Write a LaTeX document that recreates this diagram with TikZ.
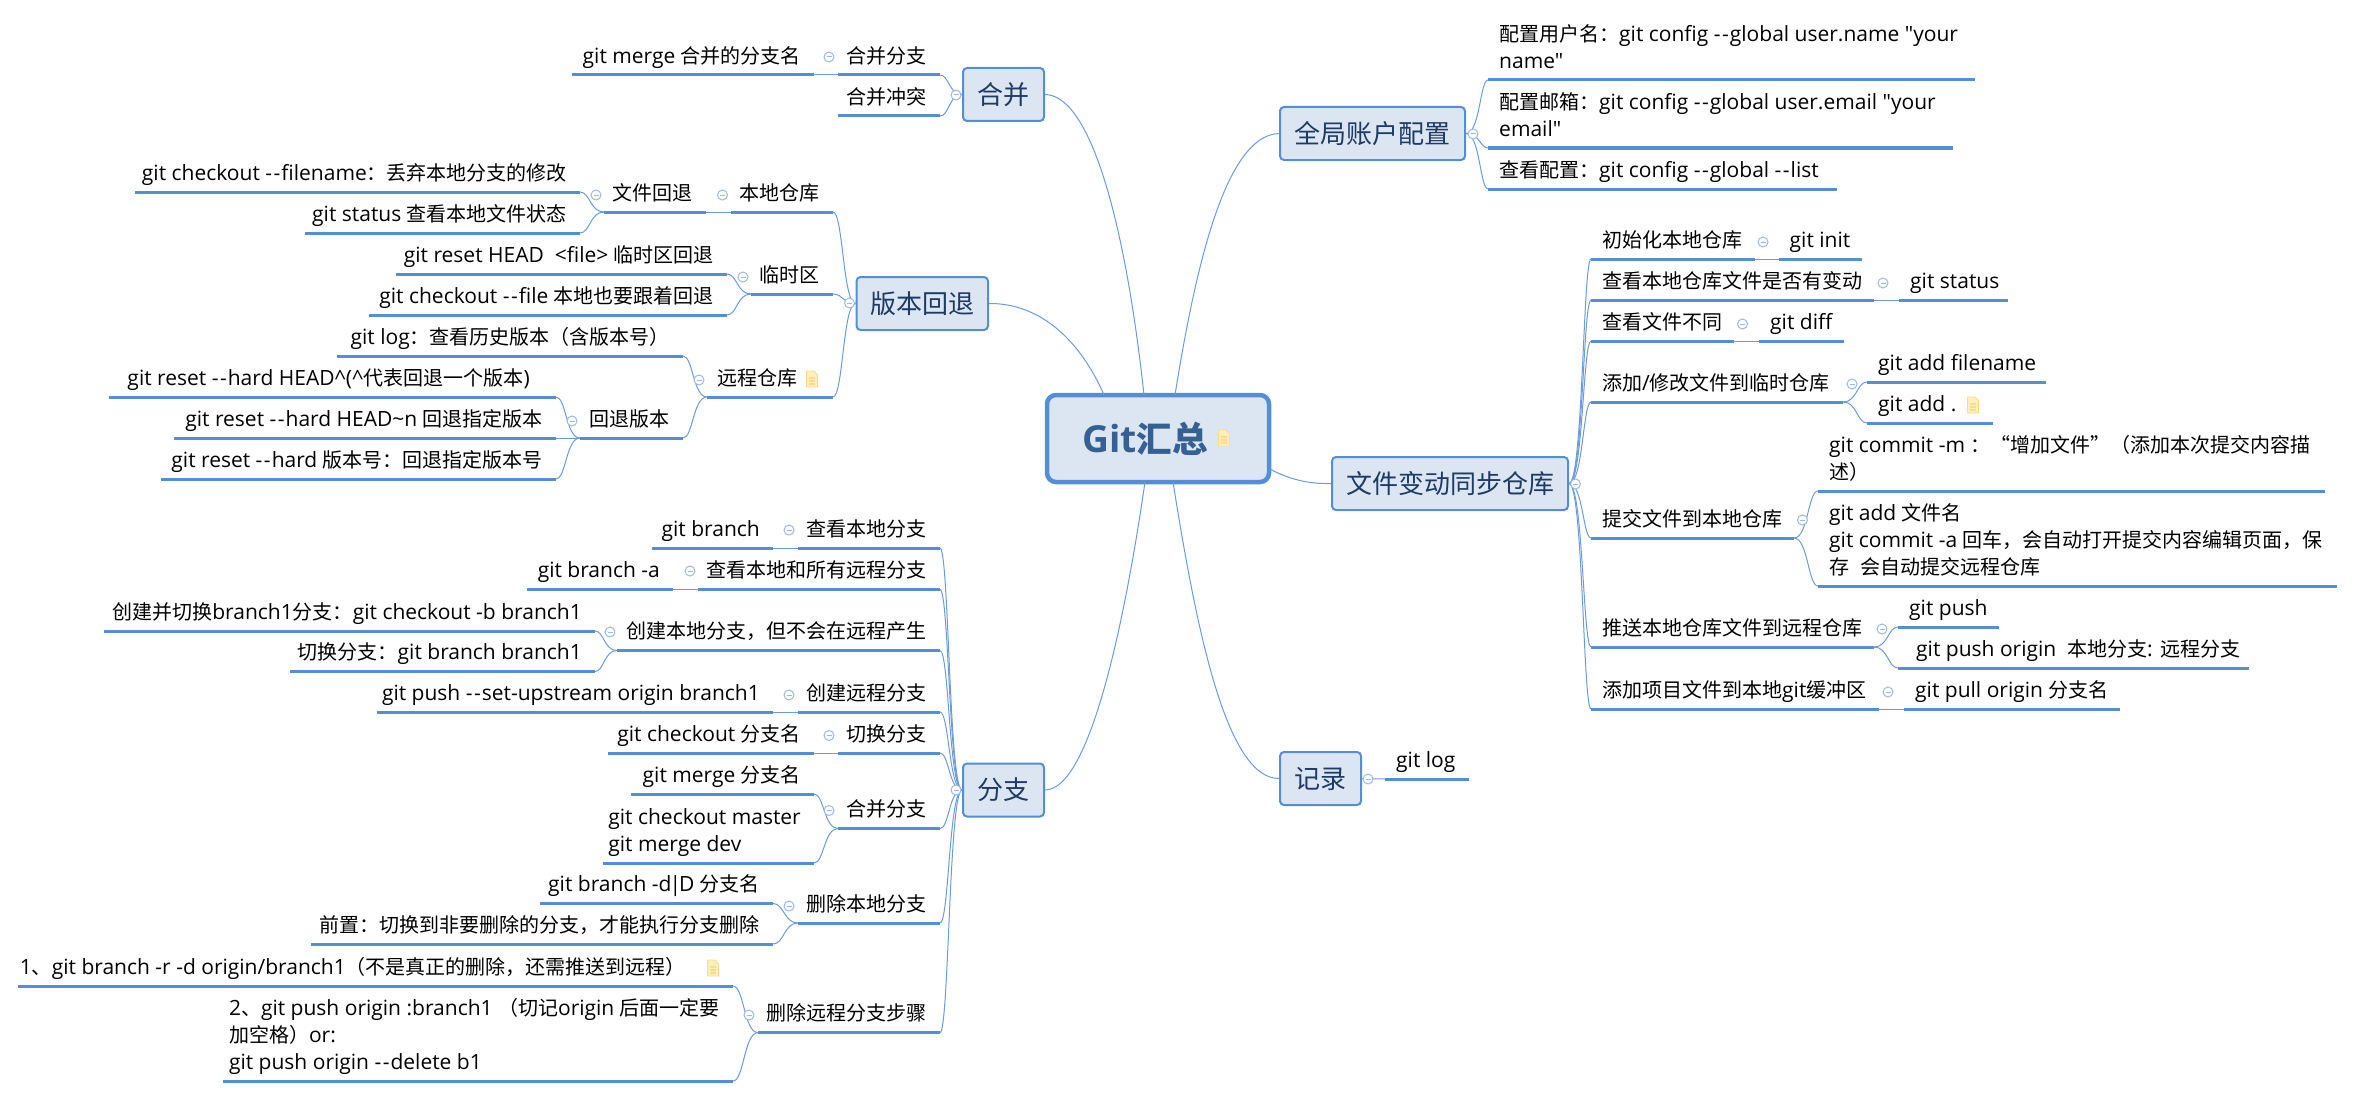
\documentclass[tikz,border=0pt]{standalone}
\usepackage{fontspec}
\setmainfont{Open Sans}
\newfontfamily\lat[Scale=1.05]{Open Sans}
\newfontfamily\cjk{Noto Sans CJK SC}
\newcount\cjkc
\cjkc="2E80 \loop \XeTeXcharclass\cjkc=100 \advance\cjkc by 1 \ifnum\cjkc<"A000 \repeat
\cjkc="FF00 \loop \XeTeXcharclass\cjkc=100 \advance\cjkc by 1 \ifnum\cjkc<"FFF0 \repeat
\XeTeXcharclass"201C=100
\XeTeXcharclass"201D=100
\XeTeXinterchartoks 0 100 = {\cjk}
\XeTeXinterchartoks 100 0 = {\lat}
\XeTeXinterchartoks 4095 100 = {\cjk}
\XeTeXinterchartoks 100 4095 = {\lat}
\XeTeXinterchartokenstate=1
\newcommand\dd{-\kern1.5pt-\kern1pt}
\definecolor{ulc}{HTML}{558ED5}
\definecolor{connc}{HTML}{6C9BDA}
\definecolor{foldcol}{HTML}{9DB8E4}
\definecolor{boxfill}{HTML}{DCE6F2}
\definecolor{boxtxt}{HTML}{1F3A63}
\definecolor{roottxt}{HTML}{366092}
\definecolor{notefill}{HTML}{FFEFB8}
\definecolor{notedraw}{HTML}{FFD98A}
\tikzset{
  ul/.style={draw=ulc,line width=3pt},
  conn/.style={draw=connc,line width=1pt},
  txt/.style={inner sep=0pt,text depth=0pt,align=left,font=\fontsize{20}{27}\selectfont\lat},
  topicbox/.style={draw=ulc,fill=boxfill,line width=2pt,rounded corners=4pt,inner sep=0pt,
    text=boxtxt,font=\fontsize{26}{30}\selectfont\lat},
  rootbox/.style={draw=ulc,fill=boxfill,line width=4.5pt,rounded corners=9pt,inner sep=0pt,
    text=roottxt,font=\fontsize{35.5}{40}\selectfont\lat\bfseries},
  foldc/.style={draw=foldcol,fill=white,line width=1pt},
}
% left-side topic: name, x1, x2, y, text
\newcommand\leafL[5]{%
  \coordinate (#1-a) at (#2,#4);\coordinate (#1-b) at (#3,#4);
  \draw[ul] (#1-a) -- (#1-b);
  \node[txt,anchor=south east] (#1) at (#3-13,#4-11.5) {#5};}
% right-side topic
\newcommand\leafR[5]{%
  \coordinate (#1-a) at (#2,#4);\coordinate (#1-b) at (#3,#4);
  \draw[ul] (#1-a) -- (#1-b);
  \node[txt,anchor=south west] (#1) at (#2+11,#4-11.5) {#5};}
% bracket curve: parent coordinate, junction x, child coordinate
\newcommand\br[3]{\draw[conn] (#1) .. controls (#2,0 |- #1) and (#2,0 |- #3) .. (#3);}
\newcommand\foldmark[2]{%
  \draw[foldc] (#1,#2) circle (5pt);
  \draw[draw=foldcol,line width=1pt] (#1-2.5,#2) -- (#1+2.5,#2);}
\newcommand\noteicon[2]{%
  \begin{scope}[shift={(#1,#2)}]
  \draw[draw=notedraw,fill=notefill,line width=0.9pt] (-5.5,-8) -- (2,-8) -- (5.5,-4) -- (5.5,8) -- (-5.5,8) -- cycle;
  \draw[draw=notedraw,line width=1.5pt] (-3,-1) -- (3,-1) (-3,2) -- (3,2) (-3,5) -- (3,5);
  \end{scope}}
\begin{document}
\begin{tikzpicture}[x=1pt,y=-1pt]
\useasboundingbox (0,0) rectangle (2355,1097);

% main boxes
\node[rootbox,minimum width=222pt,minimum height=87pt] (root) at (1158,438.5) {Git汇总\hspace*{26pt}};
\node[topicbox,minimum width=81pt,minimum height=53pt] (merge) at (1003.5,94.5) {合并};
\node[topicbox,minimum width=131.5pt,minimum height=53pt] (rollback) at (922.25,303.5) {版本回退};
\node[topicbox,minimum width=81pt,minimum height=53pt] (branch) at (1003.5,790) {分支};
\node[topicbox,minimum width=185pt,minimum height=53pt] (account) at (1372.5,133.5) {全局账户配置};
\node[topicbox,minimum width=236pt,minimum height=53pt] (sync) at (1450,483.5) {文件变动同步仓库};
\node[topicbox,minimum width=81pt,minimum height=53pt] (log) at (1320.5,778.5) {记录};

% central connectors
\coordinate (r1) at (1144,395);
\coordinate (r2) at (1104,395);
\coordinate (r3) at (1175,395);
\coordinate (r4) at (1270,469);
\coordinate (r5) at (1145,482);
\coordinate (r6) at (1173,482);
\draw[conn] (merge.east) .. controls (1090,95) and (1125,220) .. (r1);
\draw[conn] (rollback.east) .. controls (1040,303) and (1080,340) .. (r2);
\draw[conn] (account.west) .. controls (1225,135) and (1195,270) .. (r3);
\draw[conn] (r4) .. controls (1290,480) and (1310,484) .. (sync.west);
\draw[conn] (branch.east) .. controls (1090,790) and (1125,620) .. (r5);
\draw[conn] (log.west) .. controls (1225,779) and (1195,620) .. (r6);

% 合并
\leafL{m1}{838}{940}{75}{合并分支}
\leafL{m2}{838}{940}{116}{合并冲突}
\leafL{m11}{572}{814}{75}{git merge 合并的分支名}
\draw[conn] (m11-b) -- (m1-a);
\br{merge.west}{949}{m1-b}
\br{merge.west}{949}{m2-b}
\foldmark{829}{57}
\foldmark{956}{95}

% 版本回退
\leafL{v1}{731}{833}{212}{本地仓库}
\leafL{v11}{604}{706}{212}{文件回退}
\draw[conn] (v11-b) -- (v1-a);
\leafL{v111}{135}{580}{192}{git checkout \dd filename：丢弃本地分支的修改}
\leafL{v112}{305}{580}{233}{git status 查看本地文件状态}
\br{v11-a}{590}{v111-b}
\br{v11-a}{590}{v112-b}
\leafL{v2}{751}{833}{294}{临时区}
\leafL{v21}{396}{727}{274}{git reset HEAD~ <file> 临时区回退}
\leafL{v22}{369}{727}{315}{git checkout \dd file 本地也要跟着回退}
\br{v2-a}{737}{v21-b}
\br{v2-a}{737}{v22-b}
\leafL{v3}{707}{833}{397}{远程仓库\hspace*{22pt}}
\leafL{v31}{337}{683}{356}{git log：查看历史版本（含版本号）}
\leafL{v32}{580}{683}{438}{回退版本}
\br{v3-a}{693}{v31-b}
\br{v3-a}{693}{v32-b}
\leafL{v321}{109}{556}{397}{git reset \dd hard HEAD\textasciicircum(\textasciicircum 代表回退一个版本)\hspace*{13pt}}
\leafL{v322}{174}{556}{438}{git reset \dd hard HEAD\textasciitilde n 回退指定版本}
\leafL{v323}{161}{556}{479}{git reset \dd hard 版本号：回退指定版本号}
\br{v32-a}{566}{v321-b}
\draw[conn] (v322-b) -- (v32-a);
\br{v32-a}{566}{v323-b}
\br{rollback.west}{843}{v1-b}
\br{rollback.west}{843}{v2-b}
\br{rollback.west}{843}{v3-b}
\foldmark{722.5}{195}
\foldmark{596}{195}
\foldmark{743}{277}
\foldmark{699}{380}
\foldmark{572}{421}
\foldmark{849.5}{303}
\noteicon{812}{379}

% 分支
\leafL{b1}{798}{940}{548}{查看本地分支}
\leafL{b11}{652}{773}{548}{git branch}
\draw[conn] (b11-b) -- (b1-a);
\leafL{b2}{698}{940}{589.5}{查看本地和所有远程分支}
\leafL{b21}{527}{673}{589.5}{git branch -a}
\draw[conn] (b21-b) -- (b2-a);
\leafL{b3}{617}{940}{650.5}{创建本地分支，但不会在远程产生}
\leafL{b31}{104}{595}{631}{创建并切换branch1分支：git checkout -b branch1}
\leafL{b32}{290}{595}{671.5}{切换分支：git branch branch1}
\br{b3-a}{604}{b31-b}
\br{b3-a}{604}{b32-b}
\leafL{b4}{798}{940}{712}{创建远程分支}
\leafL{b41}{377}{773}{712}{git push \dd set-upstream origin branch1}
\draw[conn] (b41-b) -- (b4-a);
\leafL{b5}{838}{940}{753}{切换分支}
\leafL{b51}{607.5}{814}{753}{git checkout 分支名}
\draw[conn] (b51-b) -- (b5-a);
\leafL{b6}{838}{940}{828.5}{合并分支}
\leafL{b61}{631}{814}{794}{git merge 分支名}
\leafL{b62}{602.5}{814}{863}{git checkout master\\git merge dev}
\br{b6-a}{824}{b61-b}
\br{b6-a}{824}{b62-b}
\leafL{b7}{798}{940}{923}{删除本地分支}
\leafL{b71}{539.5}{773}{903.5}{git branch -d\kern-2pt|\kern-2pt D 分支名}
\leafL{b72}{311}{773}{944}{前置：切换到非要删除的分支，才能执行分支删除}
\br{b7-a}{784}{b71-b}
\br{b7-a}{784}{b72-b}
\leafL{b8}{758}{940}{1032.6}{删除远程分支步骤}
\leafL{b81}{17.5}{733}{986}{1、git branch -r -d origin/branch1（不是真正的删除，还需推送到远程）\hspace*{34pt}}
\leafL{b82}{223}{733}{1081}{2、git push origin :branch1 （切记origin 后面一定要\\加空格）or:\\git push origin \dd delete b1}
\br{b8-a}{744}{b81-b}
\br{b8-a}{744}{b82-b}
\br{branch.west}{949}{b1-b}
\br{branch.west}{949}{b2-b}
\br{branch.west}{949}{b3-b}
\br{branch.west}{949}{b4-b}
\br{branch.west}{949}{b5-b}
\br{branch.west}{949}{b6-b}
\br{branch.west}{949}{b7-b}
\br{branch.west}{949}{b8-b}
\foldmark{789}{530}
\foldmark{690}{571}
\foldmark{610}{632}
\foldmark{789}{695}
\foldmark{829}{735.5}
\foldmark{829}{810.5}
\foldmark{789}{906}
\foldmark{749}{1015}
\foldmark{956}{790}
\noteicon{713}{968}

% 全局账户配置
\leafR{a1}{1488}{1975}{80}{配置用户名：git config \dd global user.name "your\\name"}
\leafR{a2}{1488}{1953}{148}{配置邮箱：git config \dd global user.email "your\\email"}
\leafR{a3}{1488}{1837}{189}{查看配置：git config \dd global \dd list}
\br{account.east}{1480}{a1-a}
\br{account.east}{1480}{a2-a}
\br{account.east}{1480}{a3-a}
\foldmark{1473}{134}

% 文件变动同步仓库
\leafR{s1}{1591}{1754.5}{259}{初始化本地仓库}
\leafR{s11}{1778.5}{1862}{259}{git init}
\draw[conn] (s1-b) -- (s11-a);
\leafR{s2}{1591}{1874}{300}{查看本地仓库文件是否有变动}
\leafR{s21}{1899}{2008}{300}{git status}
\draw[conn] (s2-b) -- (s21-a);
\leafR{s3}{1591}{1734}{341}{查看文件不同}
\leafR{s31}{1759}{1844}{341}{git diff}
\draw[conn] (s3-b) -- (s31-a);
\leafR{s4}{1591}{1843}{402}{添加/修改文件到临时仓库}
\leafR{s41}{1867}{2046}{382}{git add filename}
\leafR{s42}{1867}{1993}{423}{git add .}
\br{s4-b}{1857}{s41-a}
\br{s4-b}{1857}{s42-a}
\leafR{s5}{1591}{1794}{538}{提交文件到本地仓库}
\leafR{s51}{1818}{2325}{491}{git commit -m ：“增加文件”（添加本次提交内容描\\述）}
\leafR{s52}{1818}{2337}{586}{git add 文件名\\git commit -a 回车，会自动打开提交内容编辑页面，保\\存~ 会自动提交远程仓库}
\br{s5-b}{1808}{s51-a}
\br{s5-b}{1808}{s52-a}
\leafR{s6}{1591}{1874}{647}{推送本地仓库文件到远程仓库}
\leafR{s61}{1898}{1999}{627}{git push}
\leafR{s62}{1898}{2249}{668}{\hspace*{7pt}git push origin~ 本地分支: 远程分支}
\br{s6-b}{1888}{s61-a}
\br{s6-b}{1888}{s62-a}
\leafR{s7}{1591}{1879}{709}{添加项目文件到本地git缓冲区}
\leafR{s71}{1904}{2120}{709}{git pull origin 分支名}
\draw[conn] (s7-b) -- (s71-a);
\br{sync.east}{1583}{s1-a}
\br{sync.east}{1583}{s2-a}
\br{sync.east}{1583}{s3-a}
\br{sync.east}{1583}{s4-a}
\br{sync.east}{1583}{s5-a}
\br{sync.east}{1583}{s6-a}
\br{sync.east}{1583}{s7-a}
\foldmark{1763}{242}
\foldmark{1883}{283}
\foldmark{1742.5}{324}
\foldmark{1852}{384}
\foldmark{1802.5}{520}
\foldmark{1882}{629}
\foldmark{1888}{692}
\foldmark{1575.5}{484}
\noteicon{1973}{405}

% 记录
\leafR{l1}{1385}{1469}{779}{git log}
\draw[conn] (log.east) -- (l1-a);
\foldmark{1368}{779}

\noteicon{1224}{438}
\end{tikzpicture}
\end{document}
